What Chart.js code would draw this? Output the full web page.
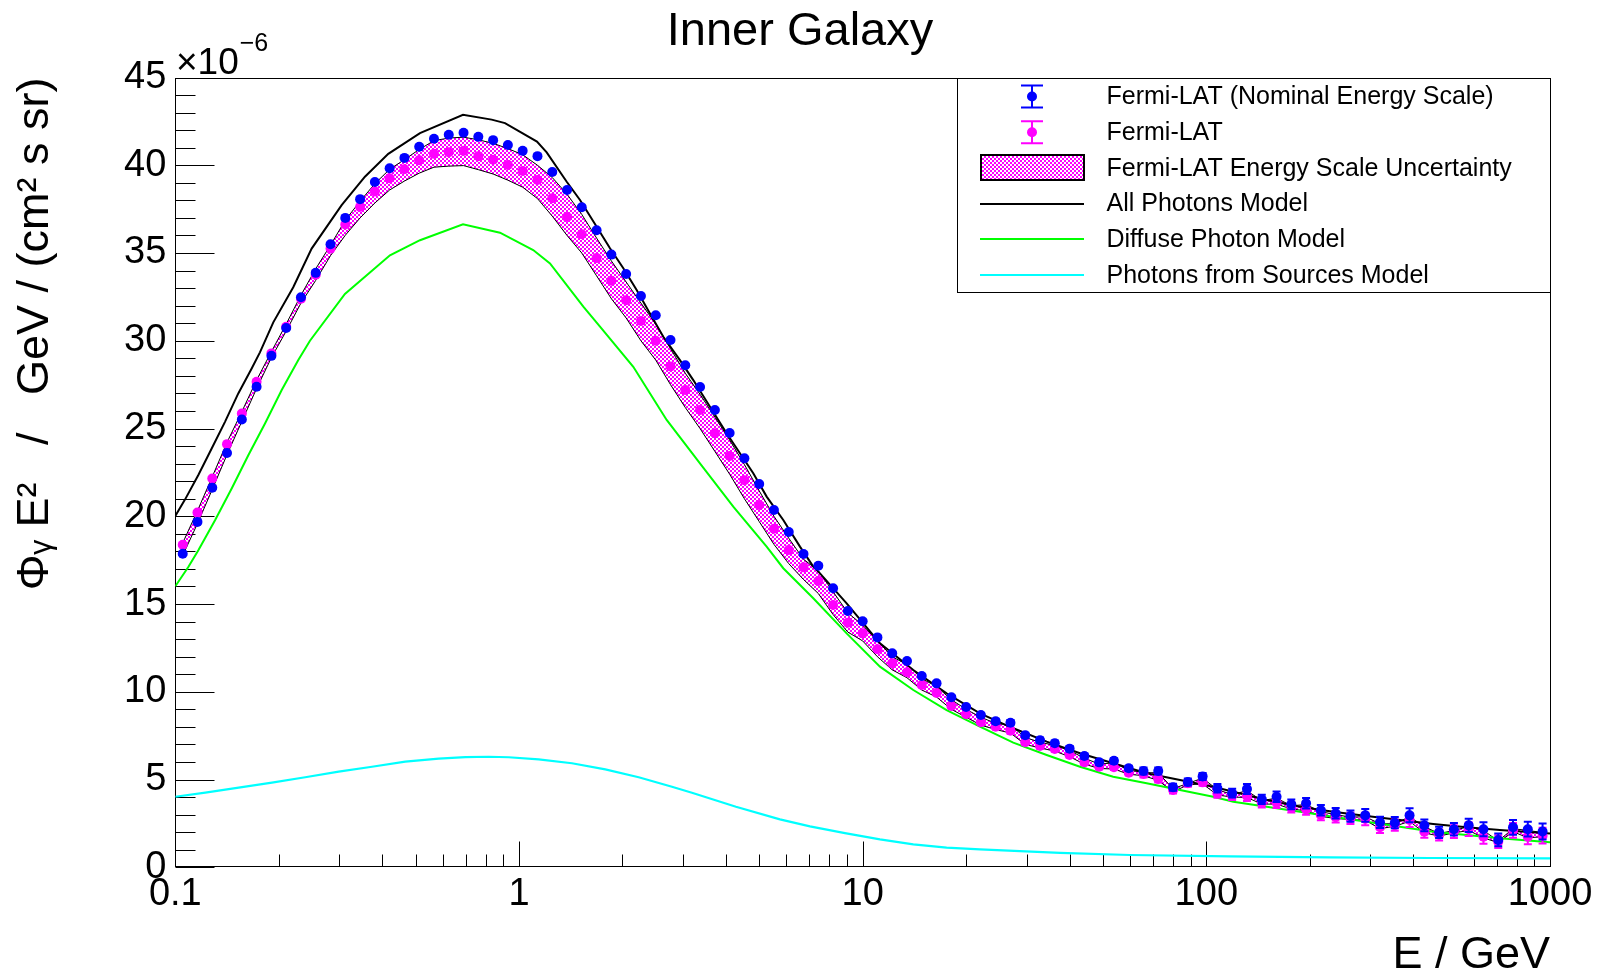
<!DOCTYPE html>
<html>
<head>
<meta charset="utf-8">
<title>Inner Galaxy</title>
<script src="https://cdn.jsdelivr.net/npm/chart.js"></script>
<style>
  html, body { margin: 0; padding: 0; background: #fff; overflow: hidden; }
  canvas { display: block; }
</style>
</head>
<body>
<canvas id="chart" width="1598" height="974"></canvas>
<script>
// bin centres of the Fermi-LAT points (GeV)
const energy = [
  0.1051, 0.1160, 0.1281, 0.1414, 0.1562, 0.1724, 0.1904, 0.2102, 0.2321, 0.2562,
  0.2829, 0.3123, 0.3449, 0.3808, 0.4204, 0.4642, 0.5125, 0.5658, 0.6248, 0.6898,
  0.7616, 0.8409, 0.9284, 1.025, 1.132, 1.250, 1.380, 1.523, 1.682, 1.857,
  2.050, 2.264, 2.500, 2.760, 3.047, 3.364, 3.715, 4.101, 4.528, 5.000,
  5.520, 6.095, 6.729, 7.430, 8.203, 9.057, 10.00, 11.04, 12.19, 13.46,
  14.86, 16.41, 18.12, 20.00, 22.08, 24.38, 26.92, 29.72, 32.82, 36.23,
  40.01, 44.17, 48.77, 53.85, 59.45, 65.64, 72.47, 80.02, 88.35, 97.55,
  107.7, 118.9, 131.3, 145.0, 160.1, 176.7, 195.1, 215.4, 237.9, 262.6,
  290.0, 320.1, 353.5, 390.3, 430.9, 475.7, 525.3, 580.0, 640.3, 707.0,
  780.6, 861.8, 951.5
];

// E^2 flux, units of 1e-6 GeV / (cm2 s sr)
const nominal = [
  17.87, 19.68, 21.63, 23.61, 25.51, 27.38, 29.14, 30.73, 32.48, 33.87,
  35.50, 37.00, 38.07, 39.05, 39.83, 40.42, 41.05, 41.51, 41.74, 41.85,
  41.62, 41.43, 41.15, 40.82, 40.52, 39.62, 38.59, 37.61, 36.30, 34.91,
  33.80, 32.55, 31.45, 30.04, 28.60, 27.37, 26.06, 24.74, 23.30, 21.84,
  20.36, 19.10, 17.85, 17.18, 15.90, 14.60, 14.02, 13.10, 12.19, 11.75,
  10.90, 10.48, 9.69, 9.13, 8.68, 8.32, 8.24, 7.52, 7.24, 7.07,
  6.76, 6.34, 5.98, 6.07, 5.64, 5.49, 5.49, 4.56, 4.86, 5.18,
  4.50, 4.22, 4.46, 3.87, 4.02, 3.59, 3.65, 3.25, 3.08, 2.92,
  2.96, 2.56, 2.54, 2.96, 2.39, 1.99, 2.17, 2.39, 2.17, 1.56,
  2.28, 2.17, 2.04
];

const fermi = [
  18.38, 20.21, 22.15, 24.11, 25.86, 27.66, 29.28, 30.80, 32.39, 33.76,
  35.25, 36.62, 37.63, 38.51, 39.26, 39.77, 40.29, 40.65, 40.74, 40.82,
  40.52, 40.31, 40.02, 39.67, 39.16, 38.12, 37.05, 36.07, 34.71, 33.42,
  32.31, 31.13, 30.00, 28.54, 27.20, 26.06, 24.73, 23.43, 22.05, 20.64,
  19.29, 18.08, 17.09, 16.31, 14.95, 13.94, 13.33, 12.42, 11.62, 11.11,
  10.39, 9.93, 9.19, 8.72, 8.26, 8.01, 7.78, 7.12, 6.91, 6.74,
  6.40, 5.98, 5.73, 5.70, 5.39, 5.32, 5.03, 4.40, 4.79, 4.84,
  4.20, 4.09, 4.06, 3.68, 3.68, 3.40, 3.30, 2.98, 2.85, 2.79,
  2.75, 2.28, 2.40, 2.70, 2.03, 1.84, 2.03, 2.17, 1.74, 1.46,
  2.10, 1.74, 1.80
];

const statErr = [
  0.08, 0.08, 0.08, 0.08, 0.08, 0.08, 0.08, 0.08, 0.08, 0.08,
  0.08, 0.08, 0.08, 0.08, 0.08, 0.08, 0.08, 0.08, 0.08, 0.08,
  0.08, 0.08, 0.08, 0.08, 0.08, 0.08, 0.08, 0.08, 0.08, 0.08,
  0.08, 0.08, 0.08, 0.08, 0.08, 0.08, 0.08, 0.08, 0.08, 0.08,
  0.10, 0.10, 0.10, 0.10, 0.10, 0.10, 0.10, 0.10, 0.10, 0.10,
  0.10, 0.10, 0.10, 0.10, 0.10, 0.15, 0.15, 0.15, 0.15, 0.15,
  0.15, 0.15, 0.15, 0.15, 0.15, 0.20, 0.20, 0.20, 0.20, 0.20,
  0.24, 0.25, 0.28, 0.27, 0.30, 0.28, 0.30, 0.30, 0.30, 0.32,
  0.36, 0.32, 0.32, 0.40, 0.34, 0.32, 0.36, 0.38, 0.40, 0.36,
  0.42, 0.42, 0.45
];

// energy scale uncertainty band
const scaleLo = [
  17.77, 19.58, 21.53, 23.51, 25.41, 27.28, 29.04, 30.55, 32.15, 33.44,
  34.85, 36.01, 37.00, 37.85, 38.59, 39.10, 39.55, 39.89, 39.95, 39.98,
  39.75, 39.50, 39.15, 38.75, 38.10, 37.10, 36.00, 35.00, 33.70, 32.40,
  31.30, 30.00, 28.90, 27.50, 26.20, 25.00, 23.70, 22.40, 21.00, 19.70,
  18.40, 17.30, 16.40, 15.60, 14.40, 13.40, 12.90, 12.00, 11.25, 10.80,
  10.10, 9.70, 9.00, 8.55, 8.10, 7.85, 7.65, 7.00, 6.80, 6.62,
  6.30, 5.88, 5.63, 5.60, 5.30, 5.22, 4.95, 4.30, 4.70, 4.75,
  4.12, 4.00, 3.98, 3.60, 3.60, 3.32, 3.22, 2.90, 2.78, 2.72,
  2.68, 2.20, 2.34, 2.62, 1.96, 1.78, 1.96, 2.10, 1.68, 1.40,
  2.03, 1.68, 1.74
];

const scaleHi = [
  18.48, 20.31, 22.25, 24.21, 25.96, 27.76, 29.38, 30.95, 32.60, 34.10,
  35.45, 36.87, 37.95, 38.95, 39.77, 40.32, 40.90, 41.40, 41.55, 41.60,
  41.45, 41.25, 40.95, 40.60, 40.00, 39.30, 38.35, 37.20, 35.85, 34.55,
  33.35, 32.15, 30.95, 29.55, 28.15, 26.95, 25.65, 24.35, 22.95, 21.45,
  20.00, 18.75, 17.55, 16.90, 15.70, 14.50, 13.80, 12.90, 12.00, 11.55,
  10.75, 10.30, 9.55, 9.00, 8.55, 8.20, 8.10, 7.40, 7.12, 6.95,
  6.65, 6.22, 5.88, 5.95, 5.54, 5.40, 5.38, 4.48, 4.78, 5.08,
  4.42, 4.15, 4.36, 3.80, 3.94, 3.51, 3.57, 3.17, 3.00, 2.86,
  2.88, 2.48, 2.48, 2.88, 2.32, 1.92, 2.10, 2.32, 2.10, 1.50,
  2.20, 2.10, 1.98
];

// models
const allE = [
  0.1, 0.1067, 0.1167, 0.1276, 0.1395, 0.1525, 0.1668, 0.1763, 0.1928, 0.2204,
  0.2493, 0.3048, 0.3563, 0.4166, 0.5152, 0.6873, 0.8329, 0.9106, 1.128, 1.204,
  1.377, 1.505, 1.683, 1.840, 2.012, 2.200, 2.405, 2.630, 2.940, 3.215,
  3.595, 4.020, 4.395, 4.805, 5.256, 5.875, 6.570, 7.184, 7.513, 8.983,
  11.23, 14.04, 17.55, 21.94, 27.43, 34.31, 42.89, 53.59, 67.04, 83.81,
  104.7, 119.8, 149.8, 187.3, 233.9, 292.7, 365.9, 457.2, 571.9, 714.8, 1000
];
const allPhotons = [
  20.02, 20.95, 22.35, 23.86, 25.38, 27.00, 28.42, 29.34, 31.05, 33.05,
  35.25, 37.73, 39.35, 40.65, 41.83, 42.88, 42.60, 42.40, 41.35, 40.73,
  39.06, 38.02, 36.50, 35.27, 34.13, 32.89, 31.56, 30.23, 28.90, 27.76,
  26.24, 24.73, 23.59, 22.45, 21.12, 19.79, 18.27, 17.13, 16.75, 15.04,
  12.76, 11.24, 9.91, 8.77, 7.92, 7.16, 6.50, 5.93, 5.36, 4.97,
  4.59, 4.31, 3.83, 3.45, 3.17, 2.92, 2.69, 2.47, 2.28, 2.13, 1.92
];

const diffuseE = [
  0.1, 0.1091, 0.1167, 0.1305, 0.1459, 0.1631, 0.1824, 0.2040, 0.2280, 0.2465,
  0.3116, 0.4213, 0.5152, 0.6873, 0.8805, 1.100, 1.231, 1.539, 1.721, 2.151,
  2.690, 3.362, 4.203, 5.256, 5.875, 7.184, 8.983, 11.23, 14.04, 17.55,
  21.94, 27.43, 34.31, 42.89, 53.59, 67.04, 83.81, 104.7, 119.8, 149.8,
  187.3, 233.9, 292.7, 365.9, 457.2, 571.9, 714.8, 1000
];
const diffuse = [
  16.01, 17.11, 18.06, 19.77, 21.58, 23.48, 25.29, 27.19, 28.90, 30.00,
  32.67, 34.87, 35.73, 36.64, 36.16, 35.17, 34.41, 31.94, 30.80, 28.52,
  25.49, 23.02, 20.55, 18.27, 17.04, 15.33, 13.33, 11.43, 10.10, 8.96,
  8.01, 7.10, 6.40, 5.73, 5.16, 4.79, 4.40, 4.02, 3.74, 3.45,
  3.17, 2.88, 2.60, 2.31, 2.03, 1.84, 1.65, 1.42
];

const sourcesE = [
  0.1, 0.1223, 0.1529, 0.1911, 0.2388, 0.2988, 0.3735, 0.4669, 0.5840, 0.6979,
  0.8165, 0.9334, 1.141, 1.426, 1.783, 2.230, 2.787, 3.186, 4.279, 5.746,
  7.025, 8.882, 11.23, 14.04, 17.55, 21.94, 37.52, 59.96, 117.2, 229.0, 447.5, 1000
];
const sources = [
  4.02, 4.25, 4.54, 4.82, 5.13, 5.45, 5.73, 6.02, 6.19, 6.28,
  6.30, 6.27, 6.15, 5.93, 5.58, 5.13, 4.59, 4.25, 3.45, 2.73,
  2.33, 1.95, 1.59, 1.31, 1.12, 1.02, 0.82, 0.70, 0.62, 0.56, 0.53, 0.51
];

const decades = [0.1, 1, 10, 100, 1000];

const FONT = "'Liberation Sans', Arial, Helvetica, sans-serif";
const BLUE = '#0000ff';
const MAGENTA = '#ff00ff';
const GREEN = '#00ff00';
const CYAN = '#00ffff';

const canvas = document.getElementById('chart');
const ctx = canvas.getContext('2d');

// ROOT-like dot hatch (2px blocks so it keeps its colour when resampled)
function dotPattern() {
  const c = document.createElement('canvas');
  c.width = 4;
  c.height = 4;
  const g = c.getContext('2d');
  g.fillStyle = MAGENTA;
  g.fillRect(0, 0, 2, 2);
  g.fillRect(2, 2, 2, 2);
  return ctx.createPattern(c, 'repeat');
}
const bandFill = dotPattern();

function pts(xs, ys) {
  return xs.map((x, i) => ({ x: x, y: ys[i] }));
}

const legendRows = [
  { text: 'Fermi-LAT (Nominal Energy Scale)', kind: 'marker', color: BLUE },
  { text: 'Fermi-LAT', kind: 'marker', color: MAGENTA },
  { text: 'Fermi-LAT Energy Scale Uncertainty', kind: 'box' },
  { text: 'All Photons Model', kind: 'line', color: '#000000' },
  { text: 'Diffuse Photon Model', kind: 'line', color: GREEN },
  { text: 'Photons from Sources Model', kind: 'line', color: CYAN }
];

const rootStyle = {
  id: 'rootStyle',
  beforeDraw(chart) {
    const c = chart.ctx;
    c.save();
    c.fillStyle = '#fff';
    c.fillRect(0, 0, chart.width, chart.height);
    c.restore();
  },
  beforeDatasetsDraw(chart) {
    const { ctx: c, chartArea: a, scales } = chart;
    const L = Math.round(a.left) + 0.5;
    const B = Math.round(a.bottom) - 0.5;
    c.save();
    c.strokeStyle = '#000';
    c.lineWidth = 1;
    c.beginPath();
    for (let v = 0; v <= 45; v++) {
      const py = Math.round(scales.y.getPixelForValue(v)) + 0.5;
      c.moveTo(L, py);
      c.lineTo(L + (v % 5 === 0 ? 39 : 20), py);
    }
    decades.forEach((d, j) => {
      const last = j === decades.length - 1;
      for (let k = 1; k <= (last ? 1 : 9); k++) {
        const px = Math.round(scales.x.getPixelForValue(d * k)) + 0.5;
        c.moveTo(px, B);
        c.lineTo(px, B - (k === 1 ? 25 : 12));
      }
    });
    c.stroke();
    c.strokeRect(L, Math.round(a.top) + 0.5, Math.round(a.right) - L + 0.5, B - Math.round(a.top) - 0.5);
    c.restore();
  },
  afterDatasetDraw(chart, args) {
    const ds = chart.data.datasets[args.index];
    if (!ds.errors) return;
    const { ctx: c, scales } = chart;
    c.save();
    c.strokeStyle = ds.backgroundColor;
    c.lineWidth = 2;
    c.beginPath();
    ds.data.forEach((p, i) => {
      const px = scales.x.getPixelForValue(p.x);
      const y1 = scales.y.getPixelForValue(p.y - ds.errors[i]);
      const y2 = scales.y.getPixelForValue(p.y + ds.errors[i]);
      c.moveTo(px, y1); c.lineTo(px, y2);
      c.moveTo(px - 4, y1); c.lineTo(px + 4, y1);
      c.moveTo(px - 4, y2); c.lineTo(px + 4, y2);
    });
    c.stroke();
    c.restore();
  },
  afterDraw(chart) {
    const c = chart.ctx;
    const a = chart.chartArea;
    c.save();
    c.fillStyle = '#000';

    // title
    c.textAlign = 'center';
    c.textBaseline = 'middle';
    c.font = '47px ' + FONT;
    c.fillText('Inner Galaxy', 800, 32);

    // axis multiplier
    c.textBaseline = 'alphabetic';
    c.textAlign = 'left';
    c.font = '37px ' + FONT;
    c.fillText('×10', 176, 74);
    const w = c.measureText('×10').width;
    c.font = '25px ' + FONT;
    c.fillText('−6', 176 + w + 1, 51);

    // legend
    const x0 = 957.5, y0 = Math.round(a.top) + 0.5, x1 = Math.round(a.right) + 0.5, y1 = 292.5;
    c.fillStyle = '#fff';
    c.fillRect(x0, y0, x1 - x0, y1 - y0);
    c.strokeStyle = '#000';
    c.lineWidth = 1;
    c.strokeRect(x0, y0, x1 - x0, y1 - y0);
    const sx = 1032;
    legendRows.forEach((row, i) => {
      const cy = 96.5 + i * 35.7;
      if (row.kind === 'marker') {
        c.strokeStyle = row.color;
        c.lineWidth = 2;
        c.beginPath();
        c.moveTo(sx, cy - 11); c.lineTo(sx, cy + 11);
        c.moveTo(sx - 11, cy - 11); c.lineTo(sx + 11, cy - 11);
        c.moveTo(sx - 11, cy + 11); c.lineTo(sx + 11, cy + 11);
        c.stroke();
        c.fillStyle = row.color;
        c.beginPath();
        c.arc(sx, cy, 5, 0, Math.PI * 2);
        c.fill();
      } else if (row.kind === 'box') {
        c.fillStyle = bandFill;
        c.fillRect(981, 155, 103, 25);
        c.strokeStyle = '#000';
        c.lineWidth = 2;
        c.strokeRect(981, 155, 103, 25);
      } else {
        c.strokeStyle = row.color;
        c.lineWidth = 2;
        c.beginPath();
        c.moveTo(980, Math.round(cy));
        c.lineTo(1084, Math.round(cy));
        c.stroke();
      }
      c.fillStyle = '#000';
      c.font = '25px ' + FONT;
      c.textBaseline = 'middle';
      c.fillText(row.text, 1106.5, cy + 1);
    });
    c.restore();
  }
};

Chart.defaults.font.family = FONT;
Chart.defaults.color = '#000';

new Chart(ctx, {
  type: 'line',
  data: {
    datasets: [
      {
        label: 'Fermi-LAT (Nominal Energy Scale)',
        data: pts(energy, nominal),
        errors: statErr,
        showLine: false,
        pointRadius: 5,
        pointHoverRadius: 5,
        pointBorderWidth: 0,
        backgroundColor: BLUE,
        borderColor: BLUE,
        order: 1
      },
      {
        label: 'Fermi-LAT',
        data: pts(energy, fermi),
        errors: statErr,
        showLine: false,
        pointRadius: 5,
        pointHoverRadius: 5,
        pointBorderWidth: 0,
        backgroundColor: MAGENTA,
        borderColor: MAGENTA,
        order: 2
      },
      {
        label: 'All Photons Model',
        data: pts(allE, allPhotons),
        borderColor: '#000000',
        borderWidth: 2,
        pointRadius: 0,
        fill: false,
        order: 3
      },
      {
        label: 'Photons from Sources Model',
        data: pts(sourcesE, sources),
        borderColor: CYAN,
        borderWidth: 2.2,
        pointRadius: 0,
        fill: false,
        order: 4
      },
      {
        label: 'Diffuse Photon Model',
        data: pts(diffuseE, diffuse),
        borderColor: GREEN,
        borderWidth: 2,
        pointRadius: 0,
        fill: false,
        order: 5
      },
      {
        label: 'Fermi-LAT Energy Scale Uncertainty',
        data: pts(energy, scaleHi),
        borderColor: '#000000',
        borderWidth: 1,
        backgroundColor: bandFill,
        pointRadius: 0,
        fill: '+1',
        order: 7
      },
      {
        label: 'scale low',
        data: pts(energy, scaleLo),
        borderColor: '#000000',
        borderWidth: 1,
        pointRadius: 0,
        fill: false,
        order: 6
      }
    ]
  },
  options: {
    responsive: false,
    devicePixelRatio: 1,
    animation: false,
    events: [],
    layout: { padding: { left: 0, right: 48, top: 77.5, bottom: 0 } },
    plugins: {
      legend: { display: false },
      tooltip: { enabled: false },
      title: { display: false }
    },
    scales: {
      x: {
        type: 'logarithmic',
        min: 0.1,
        max: 1000,
        grid: { display: false, drawTicks: false },
        border: { display: false },
        afterBuildTicks: (scale) => {
          scale.ticks = decades.map(v => ({ value: v }));
        },
        afterFit: (scale) => { scale.height = 106.7; },
        ticks: {
          autoSkip: false,
          maxRotation: 0,
          padding: 4,
          font: { size: 38 },
          callback: (v) => String(v)
        },
        title: {
          display: true,
          text: 'E / GeV',
          align: 'end',
          font: { size: 45, lineHeight: 0.8 },
          padding: { top: 0, bottom: 0 }
        }
      },
      y: {
        type: 'linear',
        min: 0,
        max: 45,
        grid: { display: false, drawTicks: false },
        border: { display: false },
        afterFit: (scale) => { scale.width = 175.3; },
        ticks: {
          stepSize: 5,
          padding: 9,
          font: { size: 38 }
        },
        title: {
          display: true,
          text: 'Φᵧ E²   /   GeV / (cm² s sr)',
          align: 'end',
          font: { size: 45, lineHeight: 1 },
          padding: { top: 13.5, bottom: 0 }
        }
      }
    }
  },
  plugins: [rootStyle]
});
</script>
</body>
</html>
